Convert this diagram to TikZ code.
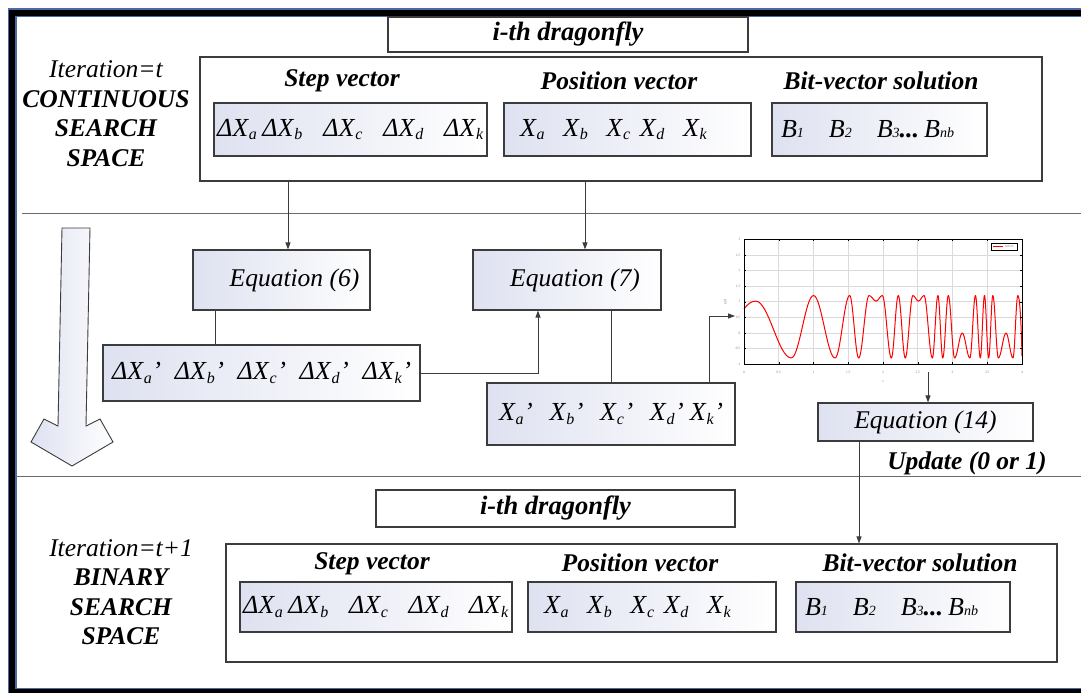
\documentclass[tikz,border=0pt]{standalone}
\usepackage{fontspec}
\setmainfont{Liberation Serif}
\usetikzlibrary{arrows.meta,calc}

\definecolor{edgegray}{HTML}{3C3C3C}
\definecolor{sepgray}{HTML}{6A6A6A}
\definecolor{shadeblue}{HTML}{DEE1F0}
\definecolor{frameblue}{HTML}{4A6AA8}
\definecolor{gridgray}{HTML}{DADADA}

% vector entries
\newcommand\subfont{\fontsize{16}{16}\selectfont}
\newcommand\dX[1]{\textit{ΔX}\textsubscript{\subfont\textit{#1}}}
\newcommand\dXp[1]{\textit{ΔX}\textsubscript{\subfont\textit{#1}}\textit{'}}
\newcommand\Xv[1]{\textit{X}\textsubscript{\subfont\textit{#1}}}
\newcommand\Xpr[1]{\textit{X}\textsubscript{\subfont\textit{#1}}\textit{'}}
\newcommand\Bv[1]{\textit{B}{\fontsize{14}{14}\selectfont\textit{#1}}}

\begin{document}
\begin{tikzpicture}[x=1pt,y=-1pt,
  plainbox/.style={draw=edgegray, line width=1.1pt, fill=white, inner sep=0pt},
  vecbox/.style={draw=edgegray, line width=1.1pt, left color=shadeblue, right color=white, inner sep=0pt},
  padtext/.style={text width=#1, align=left},
  headfont/.style={font=\fontsize{25.5}{29}\selectfont\bfseries\itshape},
  dragfont/.style={font=\fontsize{26.5}{30}\selectfont\bfseries\itshape},
  vecfont/.style={font=\fontsize{26}{30}\selectfont},
  eqfont/.style={font=\fontsize{25.5}{29}\selectfont\itshape},
  sidefont/.style={font=\fontsize{25.5}{29.5}\selectfont\bfseries\itshape, align=center},
  conn/.style={draw=edgegray, line width=0.9pt},
  arr/.style={conn, -{Triangle[length=7pt,width=5pt]}},
  sepline/.style={draw=sepgray, line width=1.1pt}]

\useasboundingbox (0,0) rectangle (1081,693);
\fill[white] (0,0) rectangle (1081,693);

% outer frame
\draw[frameblue, line width=9pt] (12,13) rectangle (1110,692);
\draw[black, line width=6.5pt] (12,13) rectangle (1110,692);

% section separators
\draw[sepline] (22,213.5) -- (1081,213.5);
\draw[sepline] (16,476.5) -- (1081,476.5);

% ---------- iteration t ----------
\node[plainbox, minimum width=360pt, minimum height=35pt, dragfont] (dragA) at (568,34.5) {i-th dragonfly\hspace{16pt}};
\node[plainbox, minimum width=842pt, minimum height=124pt] (spaceA) at (621,119) {};
\node[sidefont] (sideA) at (106,113.5) {{\mdseries Iteration=t}\\CONTINUOUS\\SEARCH\\SPACE};

\node[headfont] (stepTA) at (342,81) {Step vector};
\node[headfont] (posTA) at (619,81) {Position vector};
\node[headfont] (bitTA) at (881,81) {Bit-vector solution};

\node[vecbox, minimum width=273pt, minimum height=53pt, vecfont, padtext=267pt] (stepA) at (350.5,129.5)
  {\dX{a}\hspace{5pt}\dX{b}\hfill\dX{c}\hfill\dX{d}\hfill\dX{k}};
\node[vecbox, minimum width=247pt, minimum height=53pt, vecfont, padtext=215pt] (posA) at (627.5,129.5)
  {\Xv{a}\hspace{18pt}\Xv{b}\hspace{18pt}\Xv{c}\hspace{9pt}\Xv{d}\hspace{18pt}\Xv{k}};
\node[vecbox, minimum width=215pt, minimum height=53pt, vecfont, padtext=197pt] (bitA) at (879.5,129.5)
  {\Bv{1}\hspace{25pt}\Bv{2}\hspace{25pt}\Bv{3}\textbf{\textit{...}}\hspace{5pt}\Bv{nb}};

% ---------- update stage ----------
\node[vecbox, minimum width=177pt, minimum height=60pt, eqfont] (eqsix) at (281.5,280) {\hspace{26pt}Equation (6)};
\node[vecbox, minimum width=188pt, minimum height=60pt, eqfont] (eqseven) at (567,280) {\hspace{16pt}Equation (7)};
\node[vecbox, minimum width=317pt, minimum height=56pt, vecfont, padtext=299pt] (dxnew) at (261.5,373)
  {\dXp{a}\hfill\dXp{b}\hfill\dXp{c}\hfill\dXp{d}\hfill\dXp{k}};
\node[vecbox, minimum width=248pt, minimum height=62pt, vecfont, padtext=224pt] (xnew) at (611,414)
  {\Xpr{a}\hfill\Xpr{b}\hfill\Xpr{c}\hfill\Xpr{d}\hspace{6pt}\Xpr{k}};
\node[vecbox, minimum width=215pt, minimum height=38pt, eqfont] (eqfourteen) at (925.5,422) {Equation (14)};
\node[headfont] (updlbl) at (967,463) {Update (0 or 1)};

% hollow arrow marking the passage from t to t+1
\shade[left color=shadeblue, right color=white, draw=edgegray, line width=0.9pt]
  (62,228) -- (90,228) -- (86,426) -- (100,419) -- (113,442) -- (72,466)
  -- (31,442) -- (44,419) -- (58,426) -- cycle;

% transfer function plot
\begin{scope}[shift={(744,333)}, x=69.5pt, y=31.25pt]
  \foreach \gx in {0.5,1,...,3.5} \draw[gridgray, line width=0.6pt] (\gx,-1) -- (\gx,3);
  \foreach \gy in {-0.5,0,...,2.5} \draw[gridgray, line width=0.6pt] (0,\gy) -- (4,\gy);
  \draw[red, line width=1pt, line join=round]
    (0,0.77) .. controls (0.06,0.95) and (0.11,1.02) .. (0.17,1.02)
    \foreach \px/\py [remember=\px as \qx (initially 0.17)] in
      {0.68/-0.8, 1.0/1.2, 1.31/-0.8, 1.52/1.2, 1.65/-0.8, 1.8/1.2, 1.9/1.02,
       1.99/1.2, 2.12/-0.8, 2.22/1.2, 2.32/-0.8, 2.43/1.2, 2.51/1.02, 2.59/1.2,
       2.71/-0.8, 2.79/1.2, 2.86/-0.8, 2.94/1.2, 3.03/-0.8, 3.14/0.0, 3.25/-0.8,
       3.33/1.2, 3.40/-0.8, 3.46/1.2, 3.52/-0.8, 3.58/1.2, 3.66/-0.8, 3.77/0.0,
       3.87/-0.8, 3.94/1.2}
      { .. controls +({0.3642*(\px-\qx)},0) and +({-0.3642*(\px-\qx)},0) .. (\px,\py) }
    .. controls (3.97,1.2) and (3.99,0.2) .. (4,-0.75);
  \draw[black, line width=0.9pt] (0,-1) rectangle (4,3);
  \foreach \gx/\gl in {0/0,0.5/0.5,1/1,1.5/1.5,2/2,2.5/2.5,3/3,3.5/3.5,4/4} {
    \draw[black, line width=0.5pt] (\gx,-1) -- ++(0,0.06) (\gx,3) -- ++(0,-0.06);
    \node[font=\fontsize{3.5}{4}\selectfont, text=gray, inner sep=0pt] at (\gx,-1.25) {\gl};
  }
  \foreach \gy/\gl in {-1/-1,-0.5/-0.5,0/0,0.5/0.5,1/1,1.5/1.5,2/2,2.5/2.5,3/3} {
    \draw[black, line width=0.5pt] (0,\gy) -- ++(0.03,0) (4,\gy) -- ++(-0.03,0);
    \node[font=\fontsize{3.5}{4}\selectfont, text=gray, inner sep=0pt, anchor=east] at (-0.05,\gy) {\gl};
  }
  \node[font=\fontsize{3.5}{4}\selectfont, text=gray] (xlab) at (2,-1.55) {x};
  \node[font=\fontsize{3.5}{4}\selectfont, text=gray, rotate=90] (ylab) at (-0.27,1) {g(x)};
  \draw[black, line width=0.6pt, fill=white] (3.56,2.66) rectangle (3.93,2.86);
  \draw[red, line width=0.9pt] (3.58,2.76) -- (3.72,2.76);
  \node[font=\fontsize{3}{3.5}\selectfont, text=gray, inner sep=0pt] (leg) at (3.82,2.76) {MSOA};
\end{scope}
\coordinate (plotin) at (735,316);
\coordinate (plotout) at (928,372);

% ---------- iteration t+1 ----------
\node[plainbox, minimum width=359pt, minimum height=37pt, dragfont] (dragB) at (555.5,508.5) {i-th dragonfly};
\node[plainbox, minimum width=831pt, minimum height=118pt] (spaceB) at (641.5,603) {};
\node[sidefont] (sideB) at (121,592) {{\mdseries Iteration=t+1}\\BINARY\\SEARCH\\SPACE};

\node[headfont] (stepTB) at (372,564) {Step vector};
\node[headfont] (posTB) at (640,563) {Position vector};
\node[headfont] (bitTB) at (920,563) {Bit-vector solution};

\node[vecbox, minimum width=272pt, minimum height=50pt, vecfont, padtext=266pt] (stepB) at (376,607)
  {\dX{a}\hspace{5pt}\dX{b}\hfill\dX{c}\hfill\dX{d}\hfill\dX{k}};
\node[vecbox, minimum width=248pt, minimum height=50pt, vecfont, padtext=216pt] (posB) at (652,607)
  {\Xv{a}\hspace{18pt}\Xv{b}\hspace{18pt}\Xv{c}\hspace{9pt}\Xv{d}\hspace{18pt}\Xv{k}};
\node[vecbox, minimum width=214pt, minimum height=50pt, vecfont, padtext=196pt] (bitB) at (903,607)
  {\Bv{1}\hspace{25pt}\Bv{2}\hspace{25pt}\Bv{3}\textbf{\textit{...}}\hspace{5pt}\Bv{nb}};

% ---------- connectors ----------
\coordinate (kstep) at (288,0);
\coordinate (kpos) at (585,0);
\coordinate (ksix) at (215,0);
\coordinate (kjoin) at (538,0);
\coordinate (kseven) at (611,0);
\coordinate (kx) at (709,0);
\coordinate (kbit) at (859,0);

\draw[arr] (spaceA.south -| kstep) -- (eqsix.north -| kstep);
\draw[arr] (spaceA.south -| kpos) -- (eqseven.north -| kpos);
\draw[conn] (eqsix.south -| ksix) -- (dxnew.north -| ksix);
\draw[arr] (dxnew.east) -| (eqseven.south -| kjoin);
\draw[conn] (eqseven.south -| kseven) -- (xnew.north -| kseven);
\draw[arr] (xnew.north -| kx) |- (plotin);
\draw[arr] (plotout) -- (eqfourteen.north -| plotout);
\draw[arr] (eqfourteen.south -| kbit) -- (spaceB.north -| kbit);
\end{tikzpicture}
\end{document}
